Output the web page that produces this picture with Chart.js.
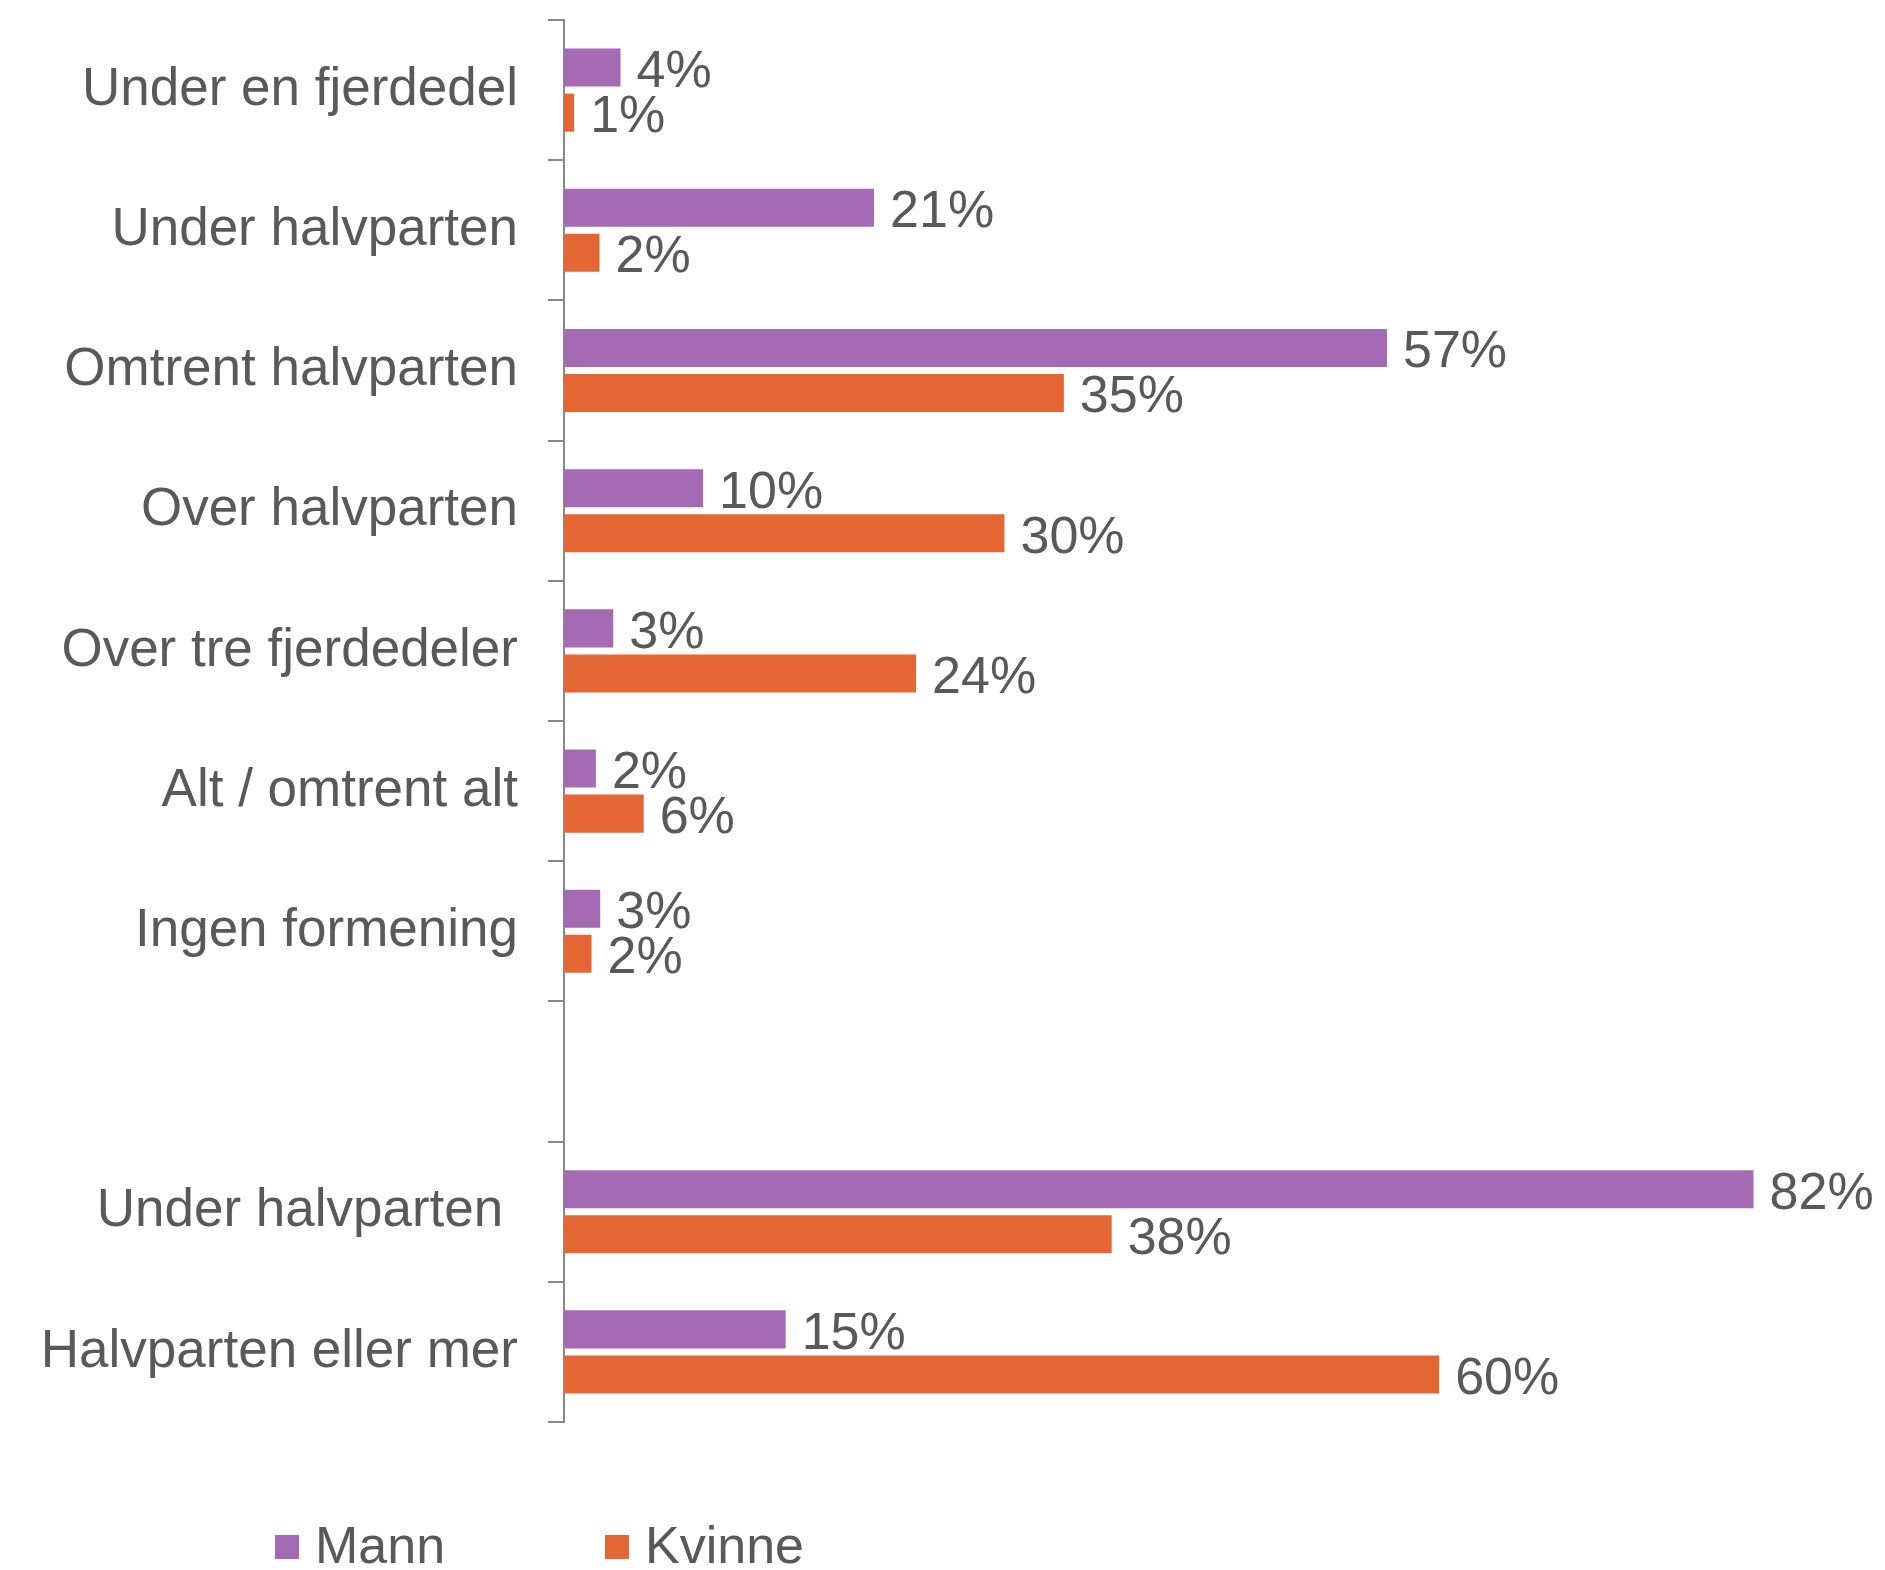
<!DOCTYPE html>
<html>
<head>
<meta charset="utf-8">
<script src="https://cdn.jsdelivr.net/npm/chart.js@4/dist/chart.umd.min.js"></script>
<style>
  body { margin: 0; background: #fff; }
  #wrap { width: 1885px; height: 1570px; }
</style>
</head>
<body>
<div id="wrap"><canvas id="myChart" width="1885" height="1570"></canvas></div>
<script>
const categories = ['Under en fjerdedel', 'Under halvparten', 'Omtrent halvparten', 'Over halvparten',
    'Over tre fjerdedeler', 'Alt / omtrent alt', 'Ingen formening', '', 'Under halvparten ', 'Halvparten eller mer'];
// stolpelengder (prosent), etikettene vises avrundet
const mann = [3.9, 21.4, 56.8, 9.6, 3.4, 2.2, 2.5, null, 82.1, 15.3];
const kvinne = [0.7, 2.45, 34.5, 30.4, 24.3, 5.5, 1.9, null, 37.8, 60.4];
const seriesNames = ['Mann', 'Kvinne'];

const FONT = '"Liberation Sans", Arial, sans-serif';
const TEXT = '#595959';
const AXIS = '#898989';

// verdier til høyre for stolpene
const valueLabels = {
    id: 'valueLabels',
    afterDatasetsDraw(chart) {
        const ctx = chart.ctx;
        ctx.save();
        ctx.font = '52px ' + FONT;
        ctx.fillStyle = TEXT;
        ctx.textAlign = 'left';
        ctx.textBaseline = 'middle';
        chart.data.datasets.forEach((ds, i) => {
            chart.getDatasetMeta(i).data.forEach((bar, j) => {
                const v = ds.data[j];
                if (v == null) return;
                ctx.fillText(Math.round(v) + '%', bar.x + 16, bar.y + 5);
            });
        });
        ctx.restore();
    }
};

// egen forklaring nederst
const bottomLegend = {
    id: 'bottomLegend',
    afterDraw(chart) {
        const ctx = chart.ctx;
        const xs = [275, 605];
        const y = 1547;
        ctx.save();
        ctx.font = '52px ' + FONT;
        ctx.textAlign = 'left';
        ctx.textBaseline = 'middle';
        chart.data.datasets.forEach((ds, i) => {
            ctx.fillStyle = ds.backgroundColor;
            ctx.fillRect(xs[i], y - 12, 24, 24);
            ctx.fillStyle = TEXT;
            ctx.fillText(ds.label, xs[i] + 40, y + 2);
        });
        ctx.restore();
    }
};

const ctx = document.getElementById('myChart').getContext('2d');
const myChart = new Chart(ctx, {
    type: 'bar',
    data: {
        labels: categories,
        datasets: [{
            label: seriesNames[0],
            data: mann,
            backgroundColor: '#A46AB3',
            categoryPercentage: 0.643,
            barPercentage: 0.844
        }, {
            label: seriesNames[1],
            data: kvinne,
            backgroundColor: '#E46634',
            categoryPercentage: 0.643,
            barPercentage: 0.844
        }]
    },
    options: {
        indexAxis: 'y',
        responsive: false,
        animation: false,
        layout: { padding: { top: 20, right: 17, bottom: 148, left: 0 } },
        scales: {
            x: {
                display: false,
                min: 0,
                max: 90
            },
            y: {
                afterFit: (scale) => {
                    scale.width = 564;
                    scale.paddingTop = 0;
                    scale.paddingBottom = 0;
                },
                grid: {
                    display: true,
                    drawOnChartArea: false,
                    drawTicks: true,
                    tickLength: 16,
                    offset: true,
                    color: AXIS,
                    lineWidth: 2
                },
                border: { display: true, color: AXIS, width: 2 },
                ticks: {
                    color: TEXT,
                    padding: 30,
                    font: { family: FONT, size: 53 }
                }
            }
        },
        plugins: {
            legend: { display: false },
            tooltip: { enabled: false }
        }
    },
    plugins: [valueLabels, bottomLegend]
});
</script>
</body>
</html>
